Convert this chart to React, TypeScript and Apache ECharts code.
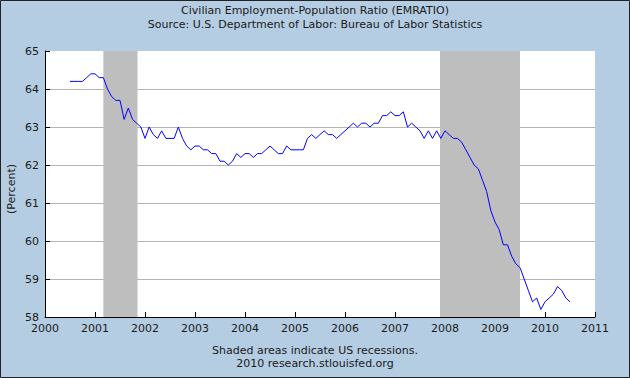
import React, { useEffect, useRef } from "react";
import * as echarts from "echarts";

// Monthly series, July 2000 through July 2010
const startYear = 2000;
const startMonthIndex = 6; // July (0-based)
const emratio: number[] = [
  // 2000 Jul-Dec
  64.2, 64.2, 64.2, 64.2, 64.3, 64.4,
  // 2001
  64.4, 64.3, 64.3, 64.0, 63.8, 63.7, 63.7, 63.2, 63.5, 63.2, 63.1, 63.0,
  // 2002
  62.7, 63.0, 62.8, 62.7, 62.9, 62.7, 62.7, 62.7, 63.0, 62.7, 62.5, 62.4,
  // 2003
  62.5, 62.5, 62.4, 62.4, 62.3, 62.3, 62.1, 62.1, 62.0, 62.1, 62.3, 62.2,
  // 2004
  62.3, 62.3, 62.2, 62.3, 62.3, 62.4, 62.5, 62.4, 62.3, 62.3, 62.5, 62.4,
  // 2005
  62.4, 62.4, 62.4, 62.7, 62.8, 62.7, 62.8, 62.9, 62.8, 62.8, 62.7, 62.8,
  // 2006
  62.9, 63.0, 63.1, 63.0, 63.1, 63.1, 63.0, 63.1, 63.1, 63.3, 63.3, 63.4,
  // 2007
  63.3, 63.3, 63.4, 63.0, 63.1, 63.0, 62.9, 62.7, 62.9, 62.7, 62.9, 62.7,
  // 2008
  62.9, 62.8, 62.7, 62.7, 62.6, 62.4, 62.2, 62.0, 61.9, 61.6, 61.3, 60.8,
  // 2009
  60.5, 60.3, 59.9, 59.9, 59.6, 59.4, 59.3, 59.0, 58.7, 58.4, 58.5, 58.2,
  // 2010 Jan-Jul
  58.4, 58.5, 58.6, 58.8, 58.7, 58.5, 58.4,
];

// Recessions (decimal years)
const recessions: [number, number][] = [
  [2001.167, 2001.85],
  [2007.9, 2009.5],
];

const yTicks = [58, 59, 60, 61, 62, 63, 64, 65];
const xTicks = [2000, 2001, 2002, 2003, 2004, 2005, 2006, 2007, 2008, 2009, 2010, 2011];

const titleText = "Civilian Employment-Population Ratio (EMRATIO)";
const subtitleText = "Source: U.S. Department of Labor: Bureau of Labor Statistics";
const footer1 = "Shaded areas indicate US recessions.";
const footer2 = "2010 research.stlouisfed.org";
const yName = "(Percent)";

export default function App() {
  const ref = useRef<HTMLDivElement>(null);
  useEffect(() => {
    if (!ref.current) return;
    const chart = echarts.init(ref.current, undefined, { renderer: "svg" });
    const font = "DejaVu Sans";
    const seriesData = emratio.map((v, i) => [
      startYear + (startMonthIndex + i) / 12,
      v,
    ]);
    const gridColors = yTicks.map((t) =>
      t === yTicks[yTicks.length - 1] ? "rgba(0,0,0,0)" : "#b4b4b4"
    );
    chart.setOption({
      animation: false,
      backgroundColor: "#b5cde3",
      textStyle: { fontFamily: font },
      grid: {
        left: 45,
        right: 35,
        top: 51,
        bottom: 61,
        show: true,
        backgroundColor: "#ffffff",
        borderWidth: 0,
      },
      xAxis: {
        type: "value",
        min: xTicks[0],
        max: xTicks[xTicks.length - 1],
        interval: 1,
        axisLine: { show: true, lineStyle: { color: "#000", width: 1 } },
        axisTick: { show: true, inside: true, length: 5, lineStyle: { color: "#000" } },
        splitLine: { show: false },
        axisLabel: {
          color: "#1a1a1a",
          fontSize: 11,
          fontFamily: font,
          margin: 6,
          formatter: (v: number) => String(Math.round(v)),
        },
      },
      yAxis: {
        type: "value",
        min: yTicks[0],
        max: yTicks[yTicks.length - 1],
        interval: 1,
        axisLine: { show: true, lineStyle: { color: "#000", width: 1 } },
        axisTick: { show: true, inside: true, length: 5, lineStyle: { color: "#000" } },
        splitLine: { show: true, lineStyle: { color: gridColors, width: 1 } },
        axisLabel: {
          color: "#1a1a1a",
          fontSize: 11,
          fontFamily: font,
          margin: 6,
        },
      },
      graphic: [
        {
          type: "text",
          left: "center",
          top: 5,
          style: { text: titleText, fontSize: 11, fontFamily: font, fill: "#1a1a1a" },
        },
        {
          type: "text",
          left: "center",
          top: 19,
          style: { text: subtitleText, fontSize: 11, fontFamily: font, fill: "#1a1a1a" },
        },
        {
          type: "text",
          left: "center",
          top: 345,
          style: { text: footer1, fontSize: 11, fontFamily: font, fill: "#1a1a1a" },
        },
        {
          type: "text",
          left: "center",
          top: 358,
          style: { text: footer2, fontSize: 11, fontFamily: font, fill: "#1a1a1a" },
        },
        {
          type: "text",
          x: 11,
          y: 189,
          rotation: Math.PI / 2,
          style: {
            text: yName,
            fontSize: 11,
            fontFamily: font,
            fill: "#1a1a1a",
            align: "center",
            verticalAlign: "middle",
          },
        },
        {
          type: "rect",
          shape: { x: 0.5, y: 0.5, width: 629, height: 377 },
          style: { fill: "none", stroke: "#222", lineWidth: 1 },
          silent: true,
          z: 100,
        },
      ],
      series: [
        {
          type: "line",
          data: seriesData,
          showSymbol: false,
          symbol: "none",
          lineStyle: { color: "#0000ff", width: 1 },
          itemStyle: { color: "#0000ff" },
          markArea: {
            silent: true,
            itemStyle: { color: "#bebebe", opacity: 1 },
            data: recessions.map(([a, b]) => [{ xAxis: a }, { xAxis: b }]),
          },
        },
      ],
    });
    return () => chart.dispose();
  }, []);
  return (
    <div
      ref={ref}
      style={{ position: "absolute", left: 0, top: 0, width: 630, height: 378 }}
    />
  );
}
